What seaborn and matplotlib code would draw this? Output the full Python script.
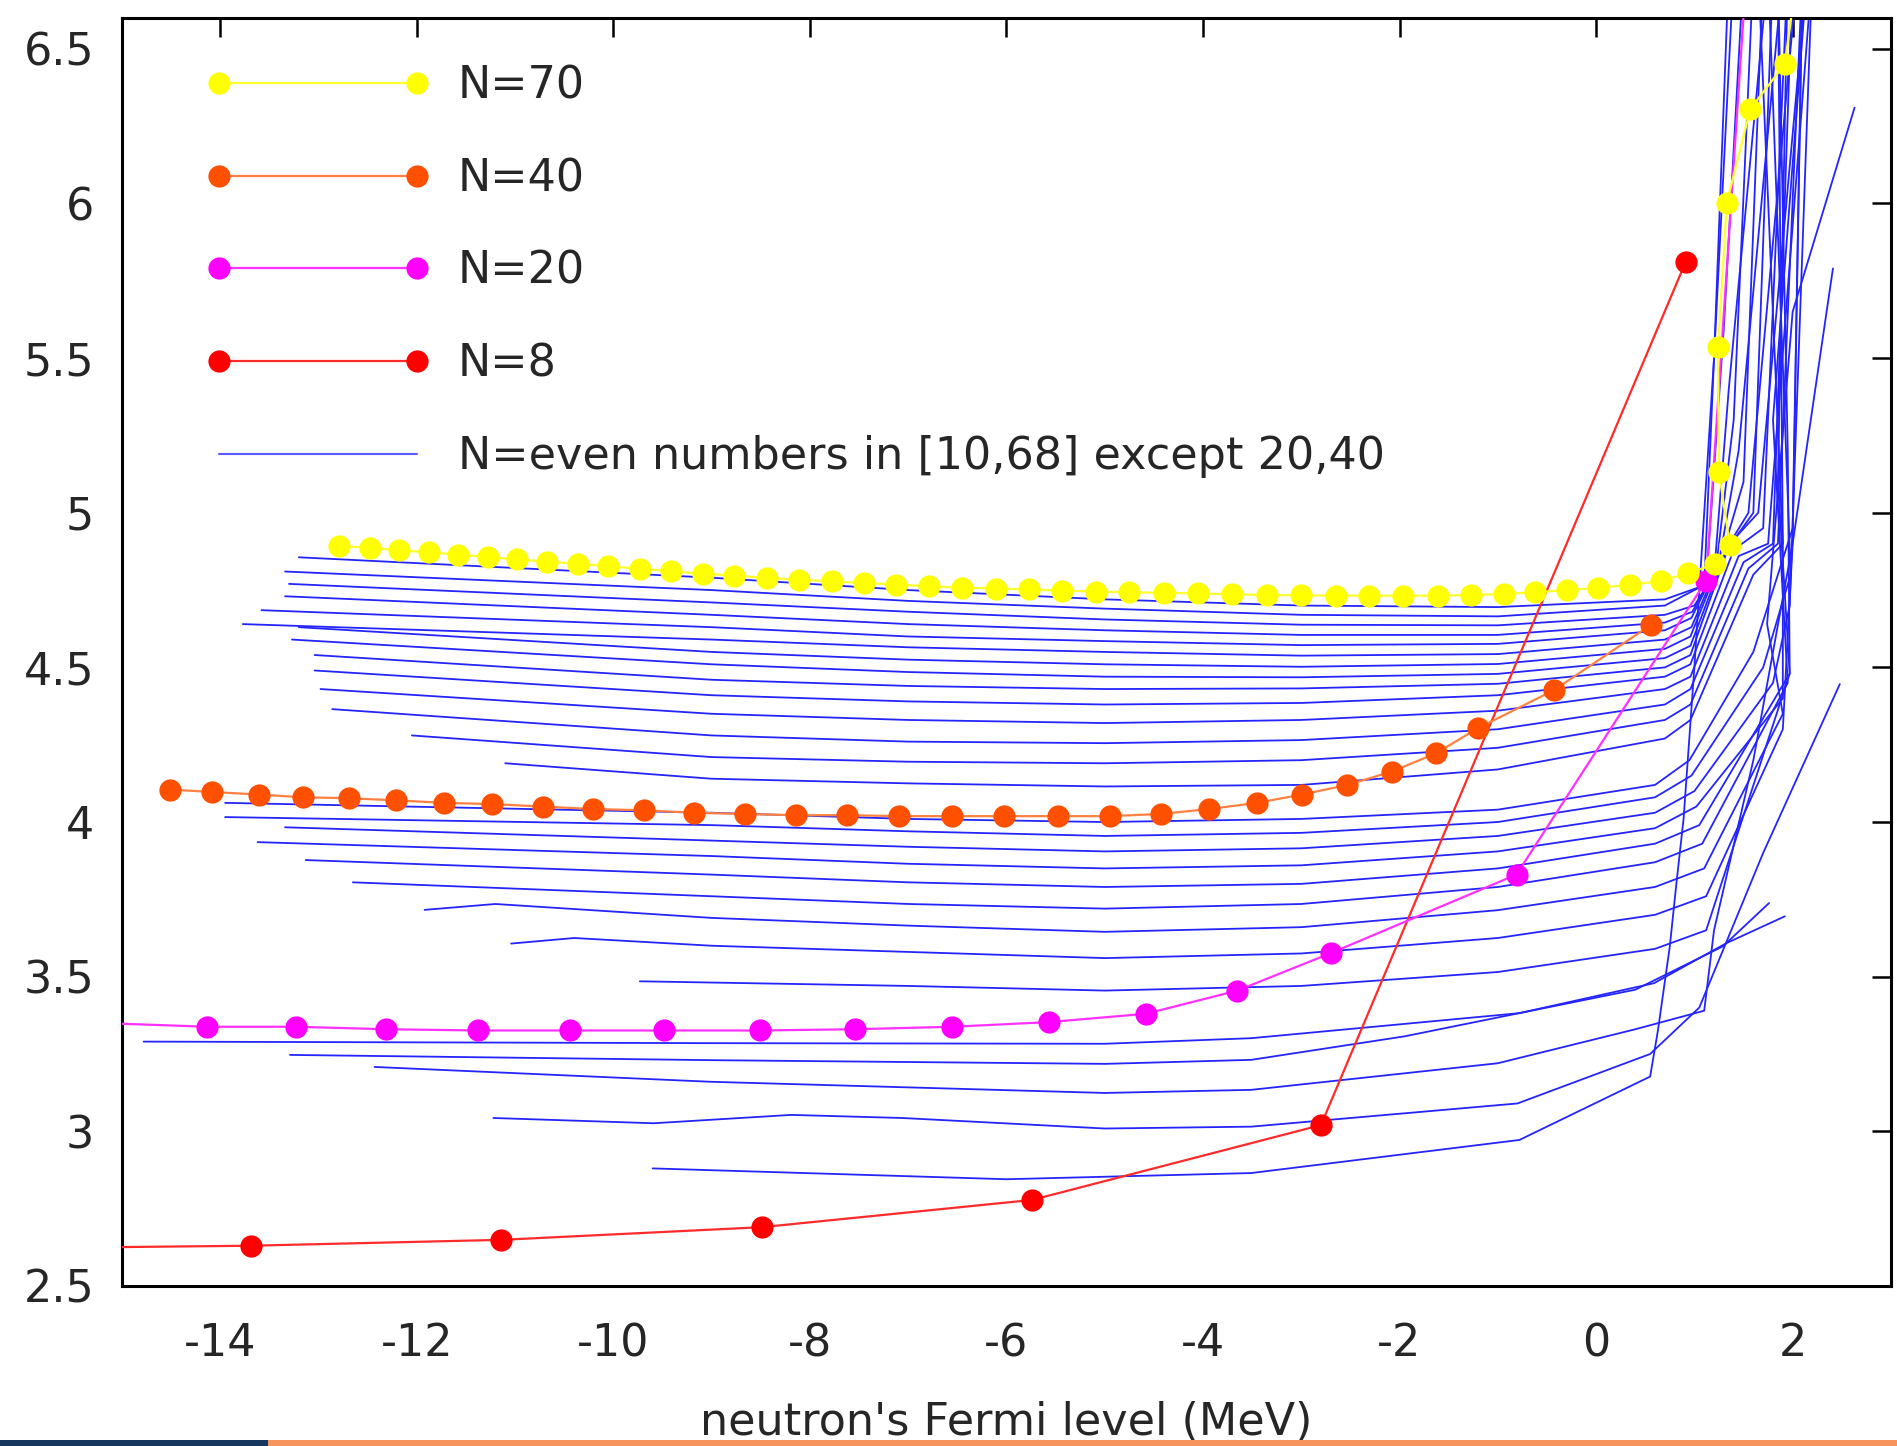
import pandas as pd
import seaborn as sns
import matplotlib.pyplot as plt
from matplotlib.patches import Rectangle

# --- data (neutron Fermi level in MeV, y value) ---
n70_x = [-12.79, -12.48, -12.18, -11.88, -11.58, -11.28, -10.98, -10.68, -10.36, -10.05,
         -9.73, -9.41, -9.09, -8.77, -8.44, -8.11, -7.78, -7.45, -7.12, -6.79,
         -6.45, -6.11, -5.77, -5.43, -5.09, -4.75, -4.40, -4.05, -3.70, -3.35,
         -3.00, -2.65, -2.31, -1.96, -1.61, -1.27, -0.94, -0.62, -0.30, 0.02,
         0.34, 0.66, 0.94, 1.21, 1.36, 1.25, 1.24, 1.33, 1.57, 1.92, 2.05]
n70_y = [4.892, 4.887, 4.879, 4.872, 4.865, 4.857, 4.849, 4.842, 4.835, 4.827,
         4.819, 4.811, 4.803, 4.797, 4.789, 4.784, 4.778, 4.773, 4.768, 4.762,
         4.758, 4.755, 4.752, 4.748, 4.745, 4.743, 4.741, 4.739, 4.736, 4.734,
         4.733, 4.732, 4.732, 4.732, 4.732, 4.734, 4.737, 4.743, 4.750, 4.757,
         4.767, 4.779, 4.805, 4.834, 4.896, 5.132, 5.537, 6.003, 6.306, 6.451, 6.75]

n40_x = [-14.51, -14.08, -13.61, -13.16, -12.69, -12.21, -11.72, -11.23, -10.72, -10.21,
         -9.69, -9.18, -8.66, -8.14, -7.62, -7.09, -6.55, -6.02, -5.48, -4.95,
         -4.43, -3.94, -3.45, -2.99, -2.53, -2.08, -1.63, -1.20, -0.43, 0.56]
n40_y = [4.105, 4.097, 4.089, 4.080, 4.077, 4.070, 4.062, 4.058, 4.050, 4.042,
         4.038, 4.030, 4.026, 4.022, 4.022, 4.019, 4.019, 4.019, 4.019, 4.019,
         4.026, 4.042, 4.062, 4.089, 4.120, 4.163, 4.222, 4.304, 4.426, 4.638]

n20_x = [-15.2, -14.13, -13.23, -12.31, -11.38, -10.44, -9.48, -8.51, -7.54, -6.55,
         -5.57, -4.58, -3.65, -2.70, -0.81, 1.12, 1.53]
n20_y = [3.350, 3.338, 3.338, 3.330, 3.326, 3.326, 3.326, 3.326, 3.330, 3.338,
         3.353, 3.380, 3.455, 3.576, 3.830, 4.780, 6.75]

n8_x = [-15.2, -13.69, -11.14, -8.49, -5.74, -2.80, 0.91]
n8_y = [2.625, 2.630, 2.649, 2.690, 2.778, 3.020, 5.810]

# other isotones (blue): N -> (x, y)
blue_lines = {
    68: ([-13.2, -9, -7, -5, -3, -1, 0.7, 1.1, 1.2, 1.35],
         [4.856, 4.79, 4.75, 4.72, 4.70, 4.695, 4.72, 4.765, 5.5, 6.75]),
    66: ([-13.34, -9, -7, -5, -3, -1, 0.7, 1.12, 1.3, 1.5],
         [4.81, 4.75, 4.715, 4.69, 4.67, 4.665, 4.70, 4.77, 5.6, 6.75]),
    64: ([-13.3, -9, -7, -5, -3, -1, 0.7, 1.0, 1.2, 1.35, 1.75],
         [4.77, 4.71, 4.68, 4.655, 4.638, 4.636, 4.67, 4.70, 4.80, 5.4, 6.75]),
    62: ([-13.34, -9, -7, -5, -3, -1, 0.7, 0.98, 1.22, 1.4, 1.6],
         [4.73, 4.67, 4.64, 4.62, 4.605, 4.605, 4.645, 4.68, 4.82, 5.3, 6.75]),
    60: ([-13.58, -9, -7, -5, -3, -1, 0.7, 0.97, 1.25, 1.45, 1.9],
         [4.685, 4.63, 4.60, 4.585, 4.572, 4.576, 4.62, 4.66, 4.84, 5.2, 6.75]),
    58: ([-13.77, -9, -7, -5, -3, -1, 0.7, 0.97, 1.28, 1.5, 1.7],
         [4.64, 4.59, 4.565, 4.55, 4.538, 4.543, 4.59, 4.63, 4.86, 5.1, 6.75]),
    56: ([-13.2, -9, -7, -5, -3, -1, 0.7, 0.96, 1.3, 1.55, 2.05],
         [4.63, 4.55, 4.525, 4.51, 4.502, 4.511, 4.56, 4.60, 4.87, 5.0, 6.75]),
    54: ([-13.27, -9, -7, -5, -3, -1, 0.7, 0.96, 1.33, 1.6, 1.8],
         [4.59, 4.51, 4.485, 4.47, 4.468, 4.479, 4.53, 4.57, 4.88, 5.0, 6.75]),
    52: ([-13.04, -9, -7, -5, -3, -1, 0.7, 0.96, 1.36, 1.65, 2.15],
         [4.54, 4.46, 4.44, 4.43, 4.432, 4.447, 4.50, 4.54, 4.90, 5.0, 6.75]),
    50: ([-13.04, -9, -7, -5, -3, -1, 0.7, 0.96, 1.4, 1.7, 1.95],
         [4.49, 4.41, 4.39, 4.38, 4.385, 4.41, 4.47, 4.51, 4.88, 4.95, 6.75]),
    48: ([-12.98, -9, -7, -5, -3, -1, 0.7, 0.96, 1.45, 1.75, 2.2],
         [4.43, 4.35, 4.33, 4.32, 4.33, 4.36, 4.43, 4.47, 4.86, 4.9, 6.75]),
    46: ([-12.86, -9, -7, -5, -3, -1, 0.7, 0.96, 1.5, 1.8, 2.0],
         [4.365, 4.28, 4.26, 4.255, 4.265, 4.30, 4.38, 4.43, 4.84, 4.9, 6.75]),
    44: ([-12.05, -9, -7, -5, -3, -1, 0.7, 0.96, 1.55, 1.85, 2.1],
         [4.28, 4.21, 4.195, 4.19, 4.20, 4.24, 4.33, 4.38, 4.82, 4.9, 6.75]),
    42: ([-11.1, -9, -7, -5, -3, -1, 0.7, 0.96, 1.6, 1.9, 1.85],
         [4.19, 4.14, 4.125, 4.115, 4.12, 4.17, 4.27, 4.33, 4.80, 4.9, 6.75]),
    38: ([-13.95, -9, -7, -5, -3, -1, 0.6, 0.95, 1.6, 2.0, 2.1],
         [4.062, 4.03, 4.01, 4.00, 4.01, 4.04, 4.12, 4.20, 4.55, 4.95, 6.75]),
    36: ([-13.95, -9, -7, -5, -3, -1, 0.6, 0.97, 1.7, 1.98, 1.75],
         [4.016, 3.99, 3.97, 3.955, 3.965, 4.00, 4.08, 4.15, 4.50, 4.8, 6.75]),
    34: ([-13.34, -9, -7, -5, -3, -1, 0.6, 1.0, 1.8, 1.97, 2.2],
         [3.983, 3.94, 3.92, 3.905, 3.915, 3.955, 4.03, 4.10, 4.45, 4.7, 6.75]),
    32: ([-13.62, -9, -7, -5, -3, -1, 0.6, 1.02, 1.9, 1.9, 1.65],
         [3.935, 3.89, 3.865, 3.85, 3.86, 3.905, 3.98, 4.05, 4.40, 4.9, 6.75]),
    30: ([-13.13, -9, -7, -5, -3, -1, 0.6, 1.05, 1.97, 1.85, 1.95],
         [3.877, 3.83, 3.805, 3.79, 3.80, 3.85, 3.93, 3.99, 4.48, 5.1, 6.75]),
    28: ([-12.65, -9, -7, -5, -3, -1, 0.6, 1.08, 1.95, 1.8, 2.15],
         [3.805, 3.76, 3.735, 3.72, 3.735, 3.79, 3.87, 3.93, 4.45, 5.3, 6.75]),
    26: ([-11.92, -11.2, -9, -7, -5, -3, -1, 0.6, 1.1, 1.9, 1.74, 2.0, 2.63],
         [3.716, 3.735, 3.69, 3.665, 3.645, 3.66, 3.715, 3.79, 3.85, 4.35, 4.64, 5.65, 6.31]),
    24: ([-11.04, -10.4, -9, -7, -5, -3, -1, 0.6, 1.12, 1.9, 2.0, 2.41],
         [3.607, 3.625, 3.60, 3.58, 3.56, 3.575, 3.625, 3.70, 3.76, 4.3, 4.9, 5.79]),
    22: ([-9.73, -7, -5, -3, -1, 0.6, 1.12, 1.97, 1.95, 1.85],
         [3.485, 3.47, 3.455, 3.47, 3.515, 3.59, 3.65, 4.48, 5.2, 6.75]),
    18: ([-14.78, -9, -5, -3.51, -0.78, 0.59, 1.33, 1.92],
         [3.29, 3.285, 3.283, 3.301, 3.382, 3.479, 3.609, 3.695]),
    16: ([-13.29, -9, -5, -3.51, -1.95, 0.40, 1.29, 1.76],
         [3.247, 3.23, 3.218, 3.231, 3.307, 3.458, 3.598, 3.738]),
    14: ([-12.43, -9, -5, -3.51, -1, 0.4, 1.10, 1.2, 1.6, 2.0, 2.1],
         [3.208, 3.16, 3.124, 3.134, 3.22, 3.33, 3.39, 3.65, 4.2, 4.9, 6.75]),
    12: ([-11.22, -9.59, -8.19, -7.06, -5, -3.51, -0.8, 0.55, 1.05, 1.7, 2.48],
         [3.043, 3.026, 3.053, 3.043, 3.009, 3.015, 3.09, 3.25, 3.40, 3.9, 4.446]),
    10: ([-9.6, -6, -3.51, -0.78, 0.55, 0.63, 0.75, 0.82, 0.89, 1.0, 1.2, 1.4],
         [2.88, 2.845, 2.865, 2.972, 3.177, 3.328, 3.598, 3.81, 4.01, 4.5, 5.5, 6.75]),
}

x_ticks = [-14, -12, -10, -8, -6, -4, -2, 0, 2]
x_ticklabels = ['-14', '-12', '-10', '-8', '-6', '-4', '-2', '0', '2']
y_ticks = [2.5, 3, 3.5, 4, 4.5, 5, 5.5, 6, 6.5]
y_ticklabels = ['2.5', '3', '3.5', '4', '4.5', '5', '5.5', '6', '6.5']

# long table for the blue isotones
rows = []
for n, (xs, ys) in blue_lines.items():
    for i, (xv, yv) in enumerate(zip(xs, ys)):
        rows.append({'N': n, 'order': i, 'x': xv, 'y': yv})
blue = pd.DataFrame(rows)

sns.set_theme(style='white')
plt.rcParams['font.family'] = ['DejaVu Sans']

fig = plt.figure(figsize=(18.97, 14.46), dpi=100)
ax = fig.add_axes([0.0643, 0.1107, 0.9325, 0.8769])

blue_label = 'N=even numbers in [10,68] except 20,40'
sns.lineplot(data=blue, x='x', y='y', units='N', estimator=None, sort=False,
             color='#2424ff', lw=1.3, ax=ax, legend=False, zorder=1)

series = [
    (n8_x, n8_y, '#ff0000', '#ff2a2a', 'N=8'),
    (n20_x, n20_y, '#ff00ff', '#ff30ff', 'N=20'),
    (n40_x, n40_y, '#ff5000', '#ff8040', 'N=40'),
    (n70_x, n70_y, '#ffff00', '#ffff30', 'N=70'),
]
for xs, ys, mc, lc, lab in series:
    sns.lineplot(x=xs, y=ys, sort=False, ax=ax, color=lc, lw=1.6,
                 marker='o', markersize=16, markerfacecolor=mc,
                 markeredgecolor=mc, markeredgewidth=0, label=lab, zorder=3)

ax.set_xlim(-15, 3)
ax.set_ylim(2.5, 6.6)
ax.set_xticks(x_ticks)
ax.set_xticklabels(x_ticklabels)
ax.set_yticks(y_ticks)
ax.set_yticklabels(y_ticklabels)
ax.tick_params(direction='in', length=14, width=1.8, color='black',
               labelsize=32, top=True, right=True)
ax.tick_params(axis='x', pad=26)
ax.tick_params(axis='y', pad=20)
for sp in ax.spines.values():
    sp.set_color('black')
    sp.set_linewidth(2.2)
ax.set_xlabel("neutron's Fermi level (MeV)", fontsize=32, labelpad=26)
ax.set_ylabel('')

# legend in the reference order, with a proxy for the blue bundle
handles, labels = ax.get_legend_handles_labels()
lookup = dict(zip(labels, handles))
proxy = plt.Line2D([], [], color='#5a5aff', lw=1.5)
order = ['N=70', 'N=40', 'N=20', 'N=8']
ax.legend([lookup[k] for k in order] + [proxy], order + [blue_label],
          loc='upper left', bbox_to_anchor=(0.0475, 0.963), borderaxespad=0,
          borderpad=0, frameon=False, fontsize=32, numpoints=2,
          handlelength=5.04, handletextpad=0.63, labelspacing=1.115)

# slide footer strip
fig.add_artist(Rectangle((0, 0), 268 / 1897, 6 / 1446, transform=fig.transFigure,
                         color='#17375e', lw=0))
fig.add_artist(Rectangle((268 / 1897, 0), 1 - 268 / 1897, 6 / 1446,
                         transform=fig.transFigure, color='#f7945d', lw=0))

fig.savefig('out.png', dpi=100)
